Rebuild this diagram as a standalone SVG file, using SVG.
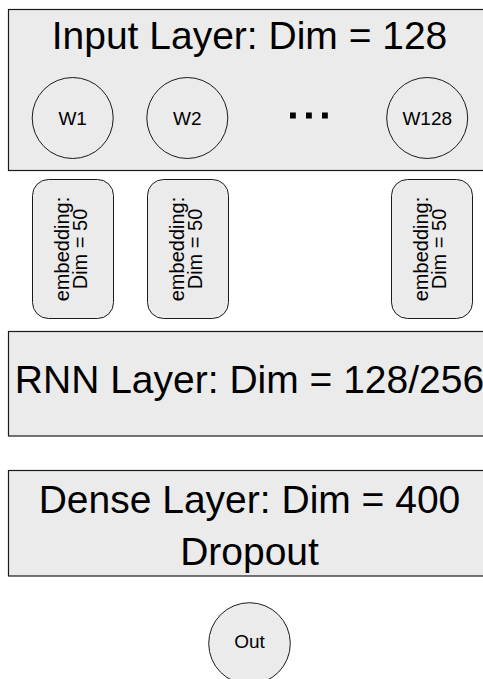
<svg xmlns="http://www.w3.org/2000/svg" width="483" height="679" viewBox="0 0 483 679">
<style>
.layer{fill:#ebebeb;stroke:#1a1a1a;stroke-width:1.2}
.node{fill:#ebebeb;stroke:#1a1a1a;stroke-width:1}
.big{font-family:"Liberation Sans",Arial,sans-serif;font-size:39px;fill:#000;text-anchor:middle}
.small{font-family:"Liberation Sans",Arial,sans-serif;font-size:19px;fill:#000;text-anchor:middle}
.emb{font-family:"Liberation Sans",Arial,sans-serif;font-size:20px;fill:#000;text-anchor:middle}
</style>
<rect width="483" height="679" fill="#ffffff"/>
<g id="input-layer">
<rect class="layer" x="8.5" y="9.5" width="484" height="161"/>
<text class="big" x="249.5" y="49">Input Layer: Dim = 128</text>
</g>
<g id="w1">
<circle class="node" cx="72.7" cy="118" r="40.5"/>
<text class="small" x="72.7" y="125">W1</text>
</g>
<g id="w2">
<circle class="node" cx="187.3" cy="118" r="40.5"/>
<text class="small" x="187.3" y="125">W2</text>
</g>
<g id="ellipsis">
<rect x="290" y="112.5" width="5.8" height="6" fill="#000"/>
<rect x="306" y="112.5" width="5.8" height="6" fill="#000"/>
<rect x="322" y="112.5" width="5.8" height="6" fill="#000"/>
</g>
<g id="w128">
<circle class="node" cx="427.2" cy="118" r="40.5"/>
<text class="small" x="427.2" y="125">W128</text>
</g>
<g id="emb1">
<rect class="node" x="32.5" y="179.5" width="81" height="139" rx="16" ry="16"/>
<text class="emb" transform="translate(73,249) rotate(-90)"><tspan x="0" y="-4">embedding:</tspan><tspan x="0" y="14">Dim = 50</tspan></text>
</g>
<g id="emb2">
<rect class="node" x="147.5" y="179.5" width="81" height="139" rx="16" ry="16"/>
<text class="emb" transform="translate(188,249) rotate(-90)"><tspan x="0" y="-4">embedding:</tspan><tspan x="0" y="14">Dim = 50</tspan></text>
</g>
<g id="emb128">
<rect class="node" x="391.5" y="179.5" width="81" height="139" rx="16" ry="16"/>
<text class="emb" transform="translate(432,249) rotate(-90)"><tspan x="0" y="-4">embedding:</tspan><tspan x="0" y="14">Dim = 50</tspan></text>
</g>
<g id="rnn-layer">
<rect class="layer" x="8.5" y="331.5" width="484" height="104.5"/>
<text class="big" x="249.5" y="393">RNN Layer: Dim = 128/256</text>
</g>
<g id="dense-layer">
<rect class="layer" x="8.5" y="470.5" width="484" height="105.5"/>
<text class="big" x="249.5" y="512.5">Dense Layer: Dim = 400</text>
<text class="big" x="249.5" y="565">Dropout</text>
</g>
<g id="out">
<circle class="node" cx="249.5" cy="643.5" r="40.8"/>
<text class="small" x="249.5" y="648">Out</text>
</g>
<g id="connectors"></g>
</svg>
